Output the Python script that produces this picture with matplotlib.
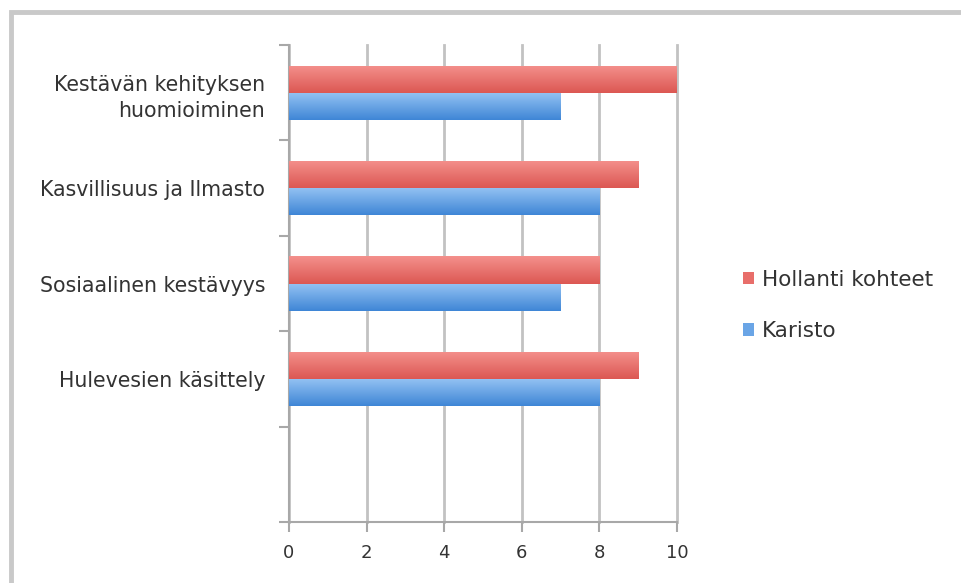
import matplotlib.pyplot as plt
import numpy as np
from matplotlib.patches import Rectangle, Patch
from matplotlib.colors import LinearSegmentedColormap

plt.rcParams['font.family'] = ['DejaVu Sans']

categories = ['Kestävän kehityksen\nhuomioiminen', 'Kasvillisuus ja Ilmasto',
              'Sosiaalinen kestävyys', 'Hulevesien käsittely', '']
hollanti = [10, 9, 8, 9, np.nan]
karisto = [7, 8, 7, 8, np.nan]
series_names = ['Hollanti kohteet', 'Karisto']
xticks = [0, 2, 4, 6, 8, 10]

red_top, red_bot = '#f4908c', '#dc5853'
blue_top, blue_bot = '#95c3f3', '#3f86d6'

fig = plt.figure(figsize=(9.62, 5.83), dpi=100)
ax = fig.add_axes([0.3004, 0.1046, 0.4033, 0.8182])

pos = np.arange(len(categories))
h = 0.285
bars_r = ax.barh(pos - h / 2, hollanti, height=h, color=red_bot, zorder=2)
bars_b = ax.barh(pos + h / 2, karisto, height=h, color=blue_bot, zorder=2)

# gradient fill: lighter on top edge, darker at bottom
grad = np.linspace(0, 1, 64).reshape(-1, 1)
for bars, c1, c2 in [(bars_r, red_top, red_bot), (bars_b, blue_top, blue_bot)]:
    cmap = LinearSegmentedColormap.from_list('g', [c1, c2])
    for r in bars:
        x, y, w, hh = r.get_x(), r.get_y(), r.get_width(), r.get_height()
        if not np.isfinite(w):
            continue
        im = ax.imshow(grad, cmap=cmap, aspect='auto', zorder=3,
                       extent=[x, x + w, y + hh, y], interpolation='bilinear')
        im.set_clip_path(r)

ax.set_xlim(0, 10)
ax.set_ylim(len(categories) - 0.5, -0.5)
ax.set_xticks(xticks)
ax.set_xticklabels([str(t) for t in xticks], fontsize=13, color='#333333')

# category ticks sit between groups, labels in the middle
ax.set_yticks(np.arange(len(categories) + 1) - 0.5)
ax.set_yticklabels([])
ax.set_yticks(pos, minor=True)
ax.set_yticklabels(categories, minor=True, fontsize=14.8, color='#333333',
                   linespacing=1.4)
ax.tick_params(axis='y', which='minor', length=0, pad=17)
ax.tick_params(axis='y', which='major', length=7, width=1.5, color='#a8a8a8')
ax.tick_params(axis='x', length=7, width=1.5, color='#a8a8a8', pad=9)

ax.grid(axis='x', color='#c2c2c2', linewidth=2, zorder=0)
for gl in ax.get_xgridlines():
    gl.set_clip_on(False)
ax.set_axisbelow(True)
for s in ['top', 'right']:
    ax.spines[s].set_visible(False)
for s in ['left', 'bottom']:
    ax.spines[s].set_color('#a8a8a8')
    ax.spines[s].set_linewidth(1.5)

handles = [Patch(facecolor='#e86e6a', edgecolor='none'),
           Patch(facecolor='#6aa5e6', edgecolor='none')]
fig.legend(handles, series_names, loc='center left',
           bbox_to_anchor=(0.752, 0.476), frameon=False, fontsize=15.5,
           handlelength=0.5, handleheight=0.5, handletextpad=0.4,
           labelspacing=1.45, labelcolor='#333333')

# outer chart frame (top and left edges visible)
fig.patches.append(Rectangle((10.5 / 962, -0.1), 1.2, 1.1 - 12.5 / 583,
                             transform=fig.transFigure, fill=False,
                             edgecolor='#c9c9c9', linewidth=3.5, clip_on=False))

fig.savefig('out.png', dpi=100)
